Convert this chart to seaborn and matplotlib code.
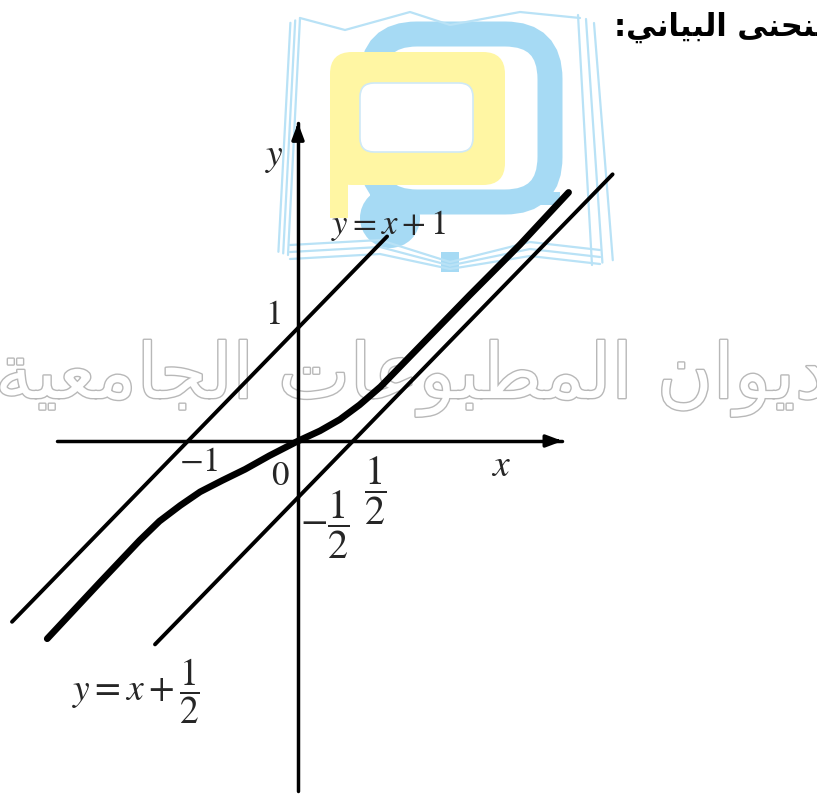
import numpy as np
import pandas as pd
import matplotlib
matplotlib.use("Agg")
import matplotlib.pyplot as plt
import matplotlib.patheffects as pe
from matplotlib.patches import FancyBboxPatch, Circle, Polygon
import seaborn as sns

sns.set_theme(style="white")
plt.rcParams["font.family"] = ["Liberation Serif", "DejaVu Sans"]
plt.rcParams["mathtext.fontset"] = "stix"

# --- chart values (plot units) ---
curve_x = [-2.28, -1.80, -1.44, -1.26, -1.07, -0.89, -0.69, -0.48, -0.26, 0.0,
           0.20, 0.38, 0.56, 0.75, 0.93, 1.20, 1.56, 2.02, 2.46]
curve_y = [-1.75, -1.25, -0.88, -0.71, -0.57, -0.45, -0.35, -0.25, -0.13, 0.0,
           0.09, 0.19, 0.32, 0.48, 0.66, 0.93, 1.29, 1.74, 2.20]

upper_x = [-2.60, 0.81]          # y = x + 1
upper_intercept = 1.0
lower_x = [-1.30, 2.86]          # line through -1/2 and 1/2
lower_intercept = -0.5

axis_x_range = [-2.19, 2.40]
axis_y_range = [-3.10, 2.81]

tick_labels = {"x_minus_one": "$-1$", "origin": "$0$", "y_one": "$1$",
               "x_half": r"$\dfrac{1}{2}$", "y_minus_half": r"$-\dfrac{1}{2}$"}
eq_upper = "$y=x+1$"
eq_lower = r"$y=x+\dfrac{1}{2}$"

W, H = 817, 795
ux, uy = 110.0, 113.0
ox, oy = 298.0, 441.0

fig = plt.figure(figsize=(W / 100, H / 100), dpi=100)
fig.patch.set_facecolor("white")

# background layer in pixel space for the publisher's mark and the header
bg = fig.add_axes([0, 0, 1, 1], zorder=0)
bg.set_xlim(0, W)
bg.set_ylim(H, 0)
bg.axis("off")

blue = "#a6daf4"
yellow = "#fff6a3"
thin_blue = "#b9e2f6"

# open book outline
for off in (0, 8, 16):
    bg.plot([300 - off * 0.6, 288 - off * 0.6], [18 + off * 0.3, 255 - off * 0.2], color=thin_blue, lw=1.6)
    bg.plot([578 + off, 592 + off * 1.3], [15 + off * 0.5, 265 - off * 0.3], color=thin_blue, lw=1.6)
for off in (0, 7, 14):
    bg.plot([290, 380, 450], [245 + off, 240 + off, 262 + off * 0.5], color=thin_blue, lw=1.6)
    bg.plot([450, 530, 600], [262 + off * 0.5, 242 + off, 250 + off], color=thin_blue, lw=1.6)
bg.plot([300, 345, 410, 450, 520, 580], [18, 30, 12, 25, 12, 18], color=thin_blue, lw=1.6)
bg.add_patch(FancyBboxPatch((441, 252), 18, 20, boxstyle="square,pad=0", fc=blue, ec="none"))

# blue band (open to the left) and its lower round end
bg.add_patch(FancyBboxPatch((372, 34), 178, 168, boxstyle="round,pad=0,rounding_size=45",
                            fc="none", ec=blue, lw=18))
bg.add_patch(Circle((390, 218), 30, fc=blue, ec="none"))
bg.add_patch(Polygon([(370, 205), (560, 205), (560, 192), (370, 192)], fc=blue, ec="none"))
# yellow frame with white window
bg.add_patch(FancyBboxPatch((330, 52), 175, 133, boxstyle="round,pad=0,rounding_size=22",
                            fc=yellow, ec="none"))
bg.add_patch(Polygon([(330, 150), (348, 150), (348, 218), (330, 218)], fc=yellow, ec="none"))
bg.add_patch(FancyBboxPatch((360, 83), 113, 69, boxstyle="round,pad=0,rounding_size=14",
                            fc="white", ec="#cfe9f7", lw=1.2))

# publisher name in outlined letters
wm = ("\uFE94\uFEF4\uFECC\uFEE3\uFE8E\uFEA0\uFEDF\uFE8D "
      "\uFE95\uFE8E\uFECB\uFEEE\uFE92\uFEC4\uFEE4\uFEDF\uFE8D "
      "\uFEE5\uFE8D\uFEEE\uFEF3\uFEA9")
bg.text(412, 398, wm, family="DejaVu Sans", fontsize=55, color="white",
        ha="center", va="baseline",
        path_effects=[pe.withStroke(linewidth=2.0, foreground="#b8b8b8")])

# header line; the page edge cuts the start of its first word
header_visible = ":\uFEF2\uFEE7\uFE8E\uFEF4\uFE92\uFEDF\uFE8D \uFEF0\uFEE8\uFEA4\uFEE8"
header = header_visible + "\uFEE4\uFEDF\uFE8D"
hkw = dict(family="DejaVu Sans", fontsize=22, fontweight="bold", color="black",
           ha="left", va="baseline")
probe = bg.text(0, 0, header_visible, **hkw)
fig.canvas.draw()
w_vis = probe.get_window_extent().width
probe.remove()
bg.text(815 - w_vis, 36, header, **hkw)

# main drawing in plot units
ax = fig.add_axes([0, 0, 1, 1], zorder=1)
ax.patch.set_alpha(0)
ax.axis("off")

axis_kw = dict(color="black", lw=2.5)
ax.plot(axis_x_range, [0, 0], **axis_kw)
ax.plot([0, 0], axis_y_range, **axis_kw)
ax.annotate("", xy=(axis_x_range[1] + 0.03, 0), xytext=(axis_x_range[1] - 0.1, 0),
            arrowprops=dict(arrowstyle="-|>,head_length=0.8,head_width=0.3", color="black", lw=2.5))
ax.annotate("", xy=(0, axis_y_range[1] + 0.03), xytext=(0, axis_y_range[1] - 0.1),
            arrowprops=dict(arrowstyle="-|>,head_length=0.8,head_width=0.3", color="black", lw=2.5))

upper_df = pd.DataFrame({"x": upper_x, "y": [v + upper_intercept for v in upper_x]})
lower_df = pd.DataFrame({"x": lower_x, "y": [v + lower_intercept for v in lower_x]})
curve_df = pd.DataFrame({"x": curve_x, "y": curve_y})

sns.lineplot(data=upper_df, x="x", y="y", ax=ax, color="black", lw=2.8, sort=False,
             solid_capstyle="round")
sns.lineplot(data=lower_df, x="x", y="y", ax=ax, color="black", lw=2.8, sort=False,
             solid_capstyle="round")
sns.lineplot(data=curve_df, x="x", y="y", ax=ax, color="black", lw=4.8, sort=False,
             solid_capstyle="round", solid_joinstyle="round")
ax.set_xlim(-ox / ux, (W - ox) / ux)
ax.set_ylim((oy - H) / uy, oy / uy)
ax.set_xlabel("")
ax.set_ylabel("")

fs = 25
ax.text(-0.21, 2.51, "$y$", fontsize=27, ha="center", va="center")
ax.text(1.84, -0.23, "$x$", fontsize=27, ha="center", va="center")
ax.text(-0.23, upper_intercept + 0.11, tick_labels["y_one"], fontsize=fs, ha="center", va="center")
ax.text(-upper_intercept + 0.1, -0.19, tick_labels["x_minus_one"], fontsize=fs, ha="center", va="center")
ax.text(-0.16, -0.31, tick_labels["origin"], fontsize=fs, ha="center", va="center")
ax.text(-lower_intercept + 0.2, -0.44, tick_labels["x_half"], fontsize=29, ha="center", va="center")
ax.text(lower_intercept + 0.74, -0.74, tick_labels["y_minus_half"], fontsize=29, ha="center", va="center")
ax.text(0.82, 1.91, eq_upper, fontsize=25, ha="center", va="center")
ax.text(-1.47, -2.21, eq_lower, fontsize=27, ha="center", va="center")

fig.savefig("out.png", dpi=100, facecolor="white")
